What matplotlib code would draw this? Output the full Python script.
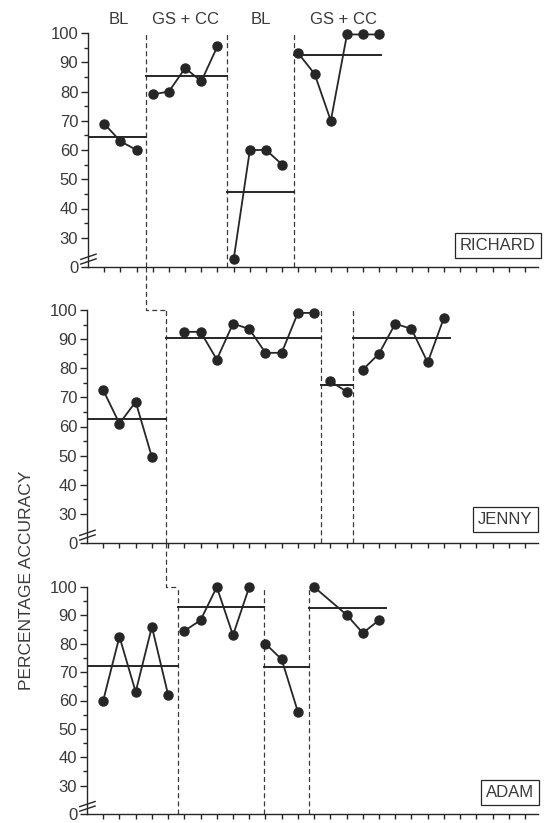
import numpy as np
import matplotlib
matplotlib.use("Agg")
import matplotlib.pyplot as plt
from matplotlib.lines import Line2D
import matplotlib.transforms as mtransforms

plt.rcParams['font.family'] = ['Liberation Sans', 'DejaVu Sans']

# --- données ---
noms = ["RICHARD", "JENNY", "ADAM"]

richard_sessions = [[1, 2, 3], [4, 5, 6, 7, 8], [9, 10, 11, 12], [13, 14, 15, 16, 17, 18]]
richard_valeurs = [[69, 63, 60], [79, 80, 88, 83.5, 95.5], [8, 60, 60, 55],
                   [93, 86, 70, 99.5, 99.5, 99.5]]
richard_moyennes = [64.5, 85.3, 45.8, 92.5]
richard_changements = [3.6, 8.6, 12.7]
richard_fin = 18.1

jenny_sessions = [[1, 2, 3, 4], [6, 7, 8, 9, 10, 11, 12, 13, 14], [15, 16],
                  [17, 18, 19, 20, 21, 22]]
jenny_valeurs = [[72.5, 61, 68.5, 49.5], [92.5, 92.5, 83, 95.3, 93.5, 85.3, 85.3, 99, 99],
                 [75.5, 72], [79.5, 85, 95.3, 93.5, 82, 97.3]]
jenny_moyennes = [62.5, 90.4, 74.2, 90.4]
jenny_changements = [4.9, 14.4, 16.4]
jenny_fin = 22.4

adam_sessions = [[1, 2, 3, 4, 5], [6, 7, 8, 9, 10], [11, 12, 13], [14, 16, 17, 18]]
adam_valeurs = [[60, 82.5, 63, 86, 62], [84.5, 88.3, 100, 83, 100], [80, 74.5, 56],
                [100, 90.2, 83.8, 88.3]]
adam_moyennes = [72.1, 92.9, 71.9, 92.6]
adam_changements = [5.6, 10.9, 13.7]
adam_fin = 18.4

phases = ["BL", "GS + CC", "BL", "GS + CC"]
phases_x = [1.9, 6.05, 10.7, 15.8]

yticks_valeurs = [0, 30, 40, 50, 60, 70, 80, 90, 100]

encre = "#262626"
gris = "#3a3a3a"


def echelle(v):
    # axe coupé : 0-30 compressé, puis linéaire
    v = np.asarray(v, dtype=float)
    return np.where(v >= 30, v - 20, v / 3)


fig = plt.figure(figsize=(5.46, 8.23), dpi=100)
W, H = 546, 823
positions = [(88, 267, 450, 234), (87, 543, 451, 233), (87, 814, 451, 227)]
axes = []
for (l, b, w, h) in positions:
    axes.append(fig.add_axes([l / W, 1 - b / H, w / W, h / H]))

donnees = [
    (richard_sessions, richard_valeurs, richard_moyennes, richard_changements, richard_fin),
    (jenny_sessions, jenny_valeurs, jenny_moyennes, jenny_changements, jenny_fin),
    (adam_sessions, adam_valeurs, adam_moyennes, adam_changements, adam_fin),
]
boites = [(0.911, 0.092), (0.928, 0.099), (0.938, 0.095)]

for ax, (sess, vals, moy, chg, fin), nom, (bx, by) in zip(axes, donnees, noms, boites):
    ax.set_xlim(0, 27.8)
    ax.set_ylim(0, 80)
    for s in ['top', 'right']:
        ax.spines[s].set_visible(False)
    for s in ['left', 'bottom']:
        ax.spines[s].set_linewidth(1.0)
        ax.spines[s].set_color(encre)

    # points reliés par phase
    for xs, ys in zip(sess, vals):
        ax.plot(xs, echelle(ys), '-o', color=encre, lw=1.3, markersize=6.5,
                clip_on=False, zorder=3)

    # moyennes de phase
    bornes = [0] + chg + [fin]
    for i, m in enumerate(moy):
        ax.plot([bornes[i], bornes[i + 1]], echelle([m, m]), '-', color=encre, lw=1.4,
                zorder=2)

    # lignes de changement de phase
    for c in chg:
        ax.plot([c, c], [0, 80], color=gris, lw=0.9, ls=(0, (4, 2.5)), zorder=1)

    ax.set_yticks(echelle(yticks_valeurs))
    ax.set_yticklabels([str(v) for v in yticks_valeurs])
    ax.set_yticks(echelle([35, 45, 55, 65, 75, 85, 95]), minor=True)
    ax.set_xticks(np.arange(1, 28))
    ax.set_xticklabels([])
    ax.tick_params(axis='y', which='major', length=5, width=1, color=encre,
                   labelsize=12, labelcolor=gris, pad=2)
    ax.tick_params(axis='y', which='minor', length=3, width=1, color=encre)
    ax.tick_params(axis='x', length=3.5, width=1, color=encre)

    # marque de coupure //
    tr = ax.get_yaxis_transform()
    for d in [1.0, 2.6]:
        ax.plot([-0.016, 0.018], [d, d + 1.8], color=encre, lw=1.0, transform=tr,
                clip_on=False)

    ax.text(bx, by, nom, transform=ax.transAxes, ha='center', va='center',
            fontsize=12, color=gris,
            bbox=dict(boxstyle='square,pad=0.3', fc='white', ec=encre, lw=0.9))

# titres de phase
tr = mtransforms.blended_transform_factory(axes[0].transData, axes[0].transAxes)
for p, x in zip(phases, phases_x):
    axes[0].text(x, 1.056, p, transform=tr, ha='center', va='center',
                 fontsize=12, color=gris)

fig.text(0.048, 0.295, "PERCENTAGE ACCURACY", rotation=90, ha='center', va='center',
         fontsize=12.5, color=gris)

# escaliers pointillés entre les panneaux
inv = fig.transFigure.inverted()
for ax_h, ax_b, xh, xb in [(axes[0], axes[1], richard_changements[0], jenny_changements[0]),
                           (axes[1], axes[2], jenny_changements[0], adam_changements[0])]:
    p0 = ax_h.transData.transform((xh, 0))
    p1 = ax_b.transData.transform((xb, 80))
    pts = inv.transform([p0, (p0[0], p1[1]), p1])
    fig.add_artist(Line2D(pts[:, 0], pts[:, 1], color=gris, lw=0.9, ls=(0, (4, 2.5))))

fig.savefig("out.png", dpi=100)
